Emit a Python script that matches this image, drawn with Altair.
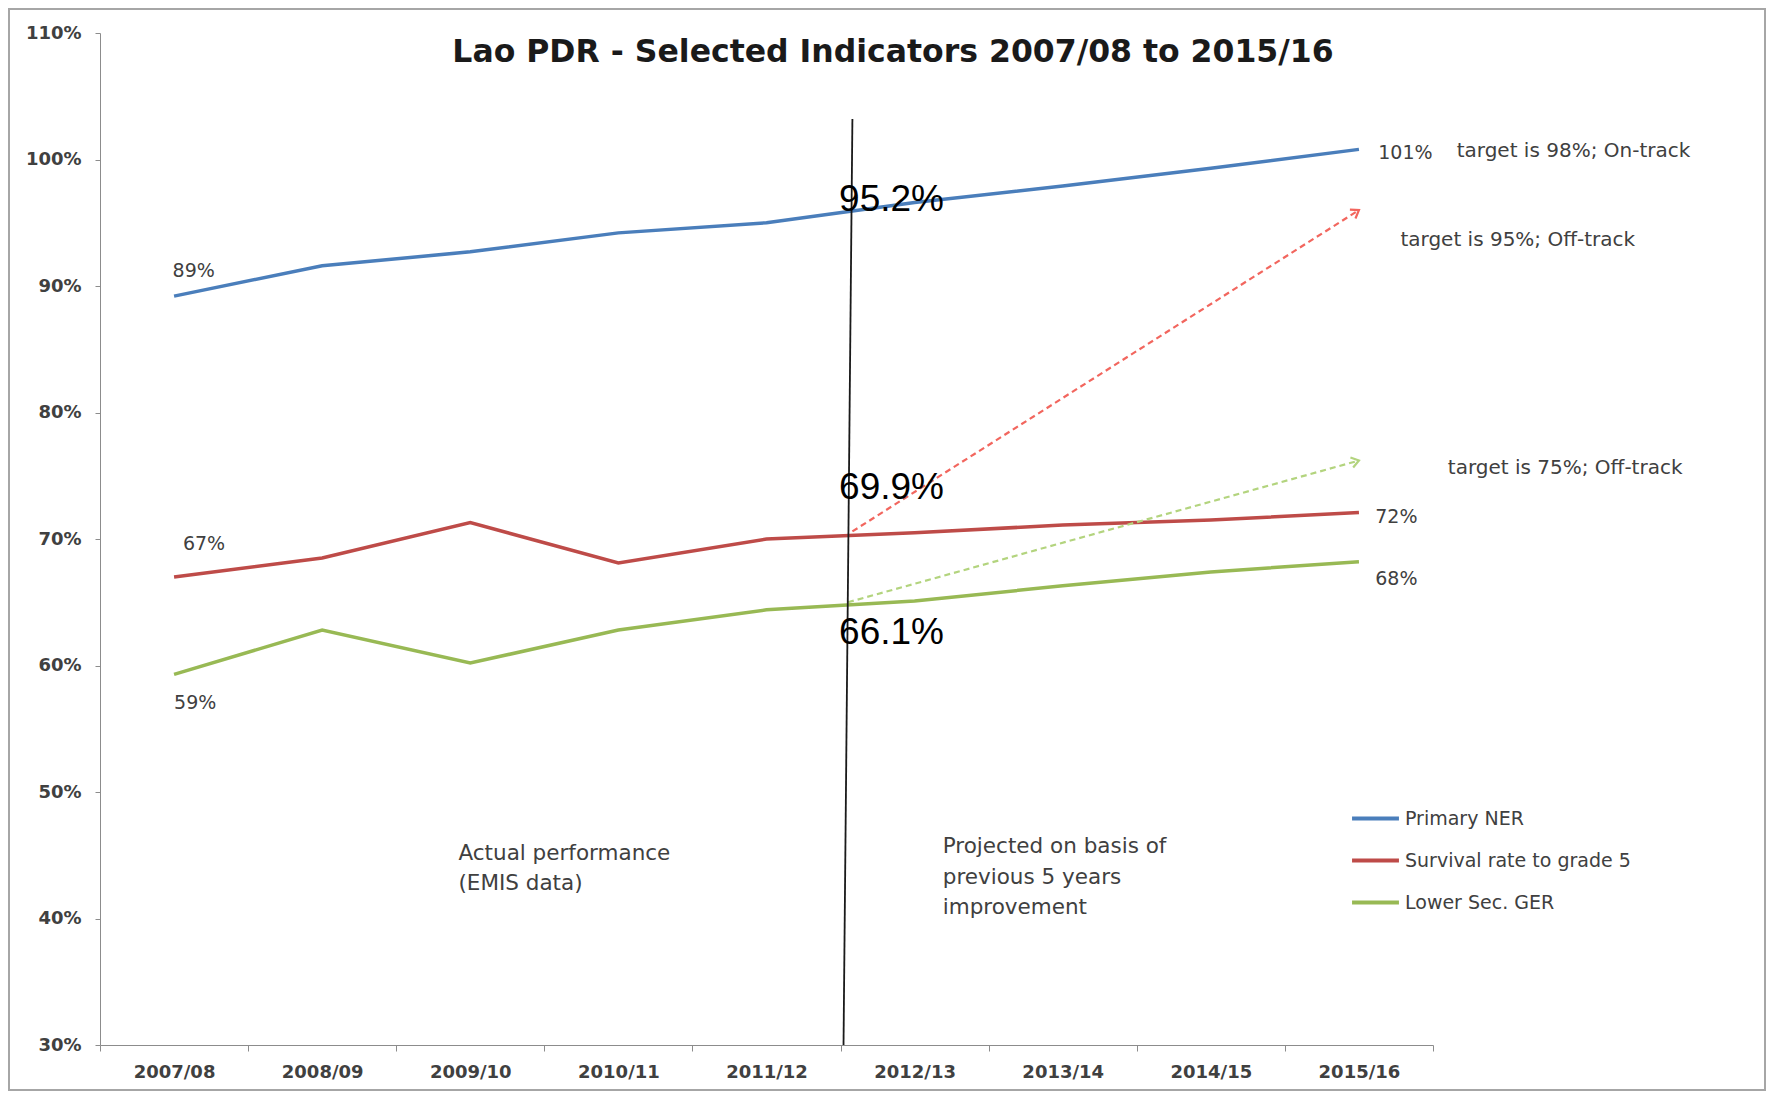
import math
import altair as alt
import pandas as pd

# ---------------- data ----------------
years = ["2007/08", "2008/09", "2009/10", "2010/11", "2011/12",
         "2012/13", "2013/14", "2014/15", "2015/16"]
series_names = ["Primary NER", "Survival rate to grade 5", "Lower Sec. GER"]
series_colors = ["#4A7EBB", "#BE4B48", "#98B954"]

primary_ner = [89.2, 91.6, 92.7, 94.2, 95.0, 96.6, 97.9, 99.3, 100.8]
survival_g5 = [67.0, 68.5, 71.3, 68.1, 70.0, 70.5, 71.1, 71.5, 72.1]
lower_sec_ger = [59.3, 62.8, 60.2, 62.8, 64.4, 65.1, 66.3, 67.4, 68.2]

y_ticks = [30, 40, 50, 60, 70, 80, 90, 100, 110]

# target projection arrows (x as category index, y in %)
arrow_names = ["Survival target", "Lower Sec. target"]
arrow_x0 = [4.58, 4.55]
arrow_y0 = [70.6, 65.0]
arrow_x1 = [8.0, 8.0]
arrow_y1 = [96.0, 76.2]
arrow_colors = ["#F2665E", "#B3D47E"]

# divider between actual and projected
divider_x = [4.58, 4.52]
divider_y = [103.2, 30.0]

# small annotations
small_text = ["89%", "67%", "59%", "101%", "72%", "68%",
              "target is 98%; On-track", "target is 95%; Off-track",
              "target is 75%; Off-track",
              "Actual performance", "(EMIS data)",
              "Projected on basis of", "previous 5 years", "improvement"]
small_x = [-0.01, 0.06, 0.0, 8.13, 8.11, 8.11, 8.66, 8.28, 8.6,
           1.92, 1.92, 5.19, 5.19, 5.19]
small_y = [91.2, 69.6, 57.0, 100.5, 71.7, 66.8, 100.7, 93.6, 75.6,
           45.1, 42.7, 45.65, 43.2, 40.8]
small_size = [19, 19, 19, 19, 19, 19, 20, 20, 20,
              21.5, 21.5, 21.5, 21.5, 21.5]

# large overlay labels
big_text = ["95.2%", "69.9%", "66.1%"]
big_x = [4.49, 4.49, 4.49]
big_y = [96.8, 74.0, 62.6]

title_text = ["Lao PDR - Selected Indicators 2007/08 to 2015/16"]
title_x = [4.854]
title_y = [108.4]

# ---------------- layout ----------------
W, H = 1333, 1012
PAD_L, PAD_T = 92, 25
TOTAL_W, TOTAL_H = 1758, 1083
PAD_R = TOTAL_W - PAD_L - W
PAD_B = TOTAL_H - PAD_T - H

x_dom = [-0.5, 8.5]
y_dom = [30, 110]
px_x = W / (x_dom[1] - x_dom[0])
px_y = H / (y_dom[1] - y_dom[0])

rows = []
for name, vals in zip(series_names, [primary_ner, survival_g5, lower_sec_ger]):
    for i, v in enumerate(vals):
        rows.append({"series": name, "idx": i, "value": v})
df = pd.DataFrame(rows)

xs = alt.Scale(domain=x_dom, nice=False, zero=False)
ys = alt.Scale(domain=y_dom, nice=False, zero=False)

label_expr = "datum.value < 8 ? " + str(years) + "[round(datum.value + 0.5)] : ''"

x_enc = alt.X("idx:Q", scale=xs,
              axis=alt.Axis(values=[i - 0.5 for i in range(10)], labelExpr=label_expr,
                            labelOffset=px_x / 2, title=None, grid=False,
                            domainColor="#8C8C8C", tickColor="#8C8C8C", tickSize=6,
                            labelFont="DejaVu Sans", labelFontSize=18, labelFontWeight="bold",
                            labelColor="#404040", labelPadding=12, labelFlush=False))
y_enc = alt.Y("value:Q", scale=ys,
              axis=alt.Axis(values=y_ticks, labelExpr="datum.value + '%'", title=None,
                            grid=False, domainColor="#8C8C8C", tickColor="#8C8C8C",
                            tickSize=5, labelFont="DejaVu Sans", labelFontSize=18,
                            labelFontWeight="bold", labelColor="#404040", labelPadding=14))

lines = alt.Chart(df).mark_line(strokeWidth=3.5).encode(
    x=x_enc, y=y_enc,
    color=alt.Color("series:N",
                    scale=alt.Scale(domain=series_names, range=series_colors),
                    sort=series_names,
                    legend=alt.Legend(orient="none", legendX=1250, legendY=760, title=None,
                                      symbolType="stroke", symbolSize=2200,
                                      symbolStrokeWidth=4, labelFont="DejaVu Sans",
                                      labelFontSize=19, labelColor="#404040",
                                      labelOffset=4, rowPadding=6, labelLimit=0)),
)

arrows_df = pd.DataFrame({"name": arrow_names, "x0": arrow_x0, "y0": arrow_y0,
                          "x1": arrow_x1, "y1": arrow_y1, "color": arrow_colors})
arrows_df["angle"] = [
    (math.degrees(math.atan2(-(b1 - b0) * px_y, (a1 - a0) * px_x)) + 360) % 360
    for a0, b0, a1, b1 in zip(arrow_x0, arrow_y0, arrow_x1, arrow_y1)
]

arrow_lines = alt.Chart(arrows_df).mark_rule(strokeWidth=2.2, strokeDash=[6, 4]).encode(
    x=alt.X("x0:Q", scale=xs), y=alt.Y("y0:Q", scale=ys),
    x2="x1:Q", y2="y1:Q",
    color=alt.Color("color:N", scale=None),
)
arrow_heads = alt.Chart(arrows_df).mark_point(
    shape="M -1 -0.7 L 0 0 L -1 0.7", filled=False, strokeWidth=2.2, size=220, opacity=1
).encode(
    x=alt.X("x1:Q", scale=xs), y=alt.Y("y1:Q", scale=ys),
    angle=alt.Angle("angle:Q", scale=None),
    color=alt.Color("color:N", scale=None),
)

div_df = pd.DataFrame({"x0": [divider_x[0]], "y0": [divider_y[0]],
                       "x1": [divider_x[1]], "y1": [divider_y[1]]})
divider = alt.Chart(div_df).mark_rule(color="#1A1A1A", strokeWidth=1.8).encode(
    x=alt.X("x0:Q", scale=xs), y=alt.Y("y0:Q", scale=ys), x2="x1:Q", y2="y1:Q")

small_df = pd.DataFrame({"t": small_text, "x": small_x, "y": small_y, "s": small_size})
small_labels = alt.Chart(small_df).mark_text(
    align="left", baseline="middle", font="DejaVu Sans", color="#404040"
).encode(x=alt.X("x:Q", scale=xs), y=alt.Y("y:Q", scale=ys), text="t:N",
         size=alt.Size("s:Q", scale=None))

big_df = pd.DataFrame({"t": big_text, "x": big_x, "y": big_y})
big_labels = alt.Chart(big_df).mark_text(
    align="left", baseline="middle", font="Liberation Sans", fontSize=37, color="#000000"
).encode(x=alt.X("x:Q", scale=xs), y=alt.Y("y:Q", scale=ys), text="t:N")

title_df = pd.DataFrame({"t": title_text, "x": title_x, "y": title_y})
title = alt.Chart(title_df).mark_text(
    align="center", baseline="middle", font="DejaVu Sans", fontSize=31.5,
    fontWeight="bold", color="#1A1A1A"
).encode(x=alt.X("x:Q", scale=xs), y=alt.Y("y:Q", scale=ys), text="t:N")

frame = alt.Chart(pd.DataFrame({"k": [0]})).mark_rect(
    fill=None, stroke="#A6A6A6", strokeWidth=2
).encode(x=alt.value(-PAD_L + 1), x2=alt.value(W + PAD_R - 1),
         y=alt.value(-PAD_T + 1), y2=alt.value(H + PAD_B - 1))

chart = alt.layer(
    frame, lines, arrow_lines, arrow_heads, divider, small_labels, big_labels, title
).properties(
    width=W, height=H,
    autosize=alt.AutoSizeParams(type="none"),
    padding={"left": PAD_L, "top": PAD_T, "right": PAD_R, "bottom": PAD_B},
    background="white",
).configure_view(stroke=None)

chart.save("out.html", embed_options={"renderer": "svg", "actions": False})
